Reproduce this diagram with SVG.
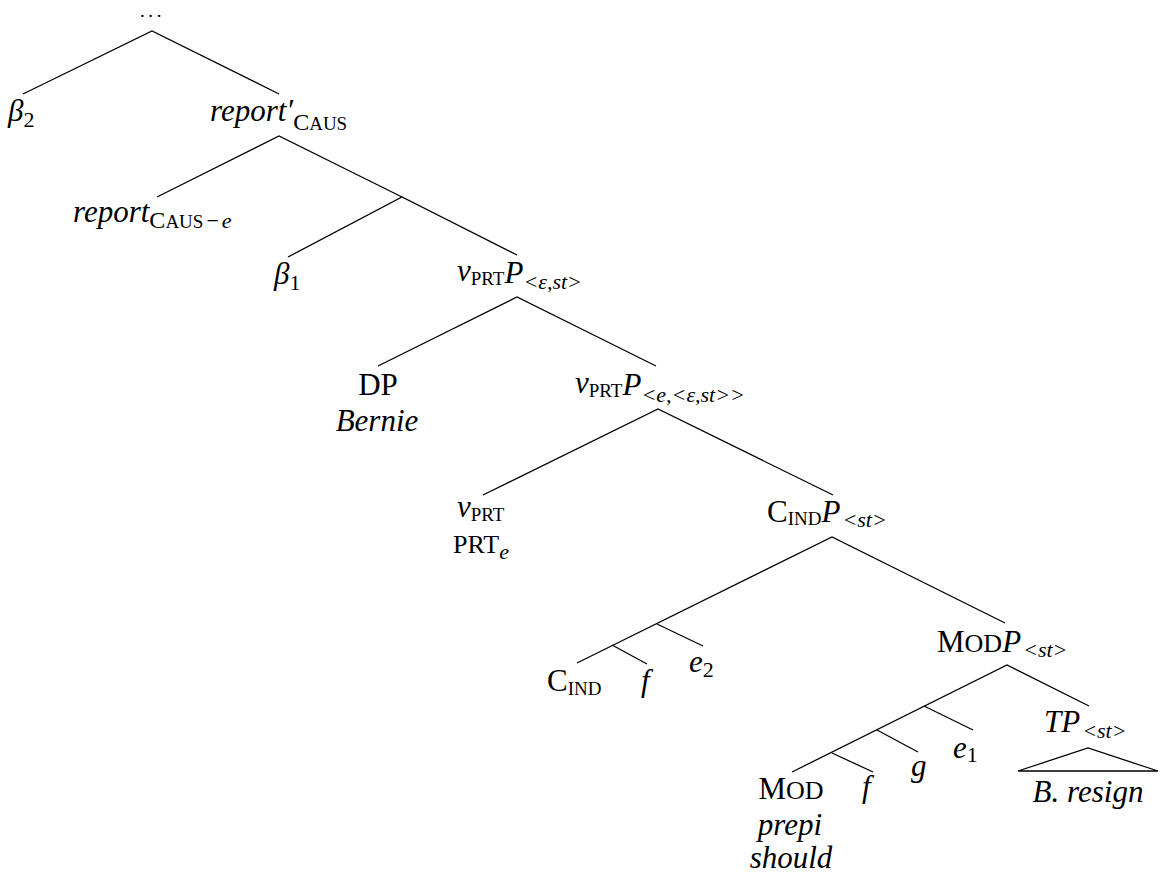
<svg xmlns="http://www.w3.org/2000/svg" width="1160" height="881" viewBox="0 0 1160 881">
  <style>
    text { font-family: "Liberation Serif", "Times New Roman", serif; font-size: 31px; fill: #000; }
    .i { font-style: italic; }
    .n { font-style: normal; }
    .sub { font-size: 22px; }
    .sc { font-size: 19px; font-style: normal; }
    .scm { font-size: 26px; font-style: normal; }
    .cap { font-size: 24px; font-style: normal; }
    .edge { fill: none; stroke: #000; stroke-width: 1.3; stroke-linejoin: miter; }
  </style>
  <rect width="1160" height="881" fill="#fff"/>

  <!-- branches -->
  <g id="connectors" class="edge">
    <path d="M23,94 L152,31 L279,94"/>
    <path d="M157,197 L279,136 L402,197"/>
    <path d="M288,257 L402,197 L517,255"/>
    <path d="M378,366 L517,297 L656,366"/>
    <path d="M483,495 L658,409 L833,495"/>
    <path d="M577,663 L832,537 L1005,623"/>
    <path d="M657,624 L703,646"/>
    <path d="M612,645 L647,664"/>
    <path d="M792,772 L1007,665 L1089,706"/>
    <path d="M924,706 L973,730"/>
    <path d="M877,730 L918,752"/>
    <path d="M832,753 L873,772"/>
    <path d="M1018,771 L1088,748 L1158,771 Z"/>
  </g>

  <g id="root">
    <text x="140" y="17" style="font-size:19px" letter-spacing="3.6">...</text>
  </g>

  <g id="beta2">
    <text x="8" y="121"><tspan class="i">β</tspan><tspan class="sub" y="127">2</tspan></text>
  </g>

  <g id="report-prime-caus">
    <text x="210" y="121"><tspan class="i">report′</tspan><tspan class="cap" y="130">C</tspan><tspan class="sc" y="130">AUS</tspan></text>
  </g>

  <g id="report-caus-e">
    <text x="73" y="222"><tspan class="i">report</tspan><tspan class="cap" y="228">C</tspan><tspan class="sc" y="228">AUS</tspan><tspan class="sub" dx="3" y="228">−</tspan><tspan class="sub i" dx="3" y="228">e</tspan></text>
  </g>

  <g id="beta1">
    <text x="274" y="284"><tspan class="i">β</tspan><tspan class="sub" y="290">1</tspan></text>
  </g>

  <g id="vprtp-eps-st">
    <text x="457" y="281"><tspan class="i">v</tspan><tspan class="sc" y="285">PRT</tspan><tspan class="i" y="283">P</tspan><tspan class="sub i" y="289">&lt;ε,st&gt;</tspan></text>
  </g>

  <g id="dp-bernie">
    <text x="378" y="395" text-anchor="middle">DP</text>
    <text x="377" y="431" text-anchor="middle" class="i">Bernie</text>
  </g>

  <g id="vprtp-e-eps-st">
    <text x="575" y="393"><tspan class="i">v</tspan><tspan class="sc" y="397">PRT</tspan><tspan class="i" y="395">P</tspan><tspan class="sub i" y="402">&lt;e,&lt;ε,st&gt;&gt;</tspan></text>
  </g>

  <g id="vprt-prt-e">
    <text x="457" y="517"><tspan class="i">v</tspan><tspan class="sc" y="521">PRT</tspan></text>
    <text x="453" y="553"><tspan class="scm">PRT</tspan><tspan class="sub i" y="559">e</tspan></text>
  </g>

  <g id="cindp-st">
    <text x="767" y="522">C<tspan class="sc" y="525">IND</tspan><tspan class="i" y="522">P</tspan><tspan class="sub i" dx="2" y="527">&lt;st&gt;</tspan></text>
  </g>

  <g id="cind">
    <text x="547" y="691">C<tspan class="sc" y="695">IND</tspan></text>
  </g>

  <g id="f-cind">
    <text x="641" y="691" class="i">f</text>
  </g>

  <g id="e2">
    <text x="689" y="672"><tspan class="i">e</tspan><tspan class="sub" y="677">2</tspan></text>
  </g>

  <g id="modp-st">
    <text x="937" y="652">M<tspan class="scm">OD</tspan><tspan class="i">P</tspan><tspan class="sub i" dx="2" y="657">&lt;st&gt;</tspan></text>
  </g>

  <g id="tp-st">
    <text x="1044" y="732"><tspan class="i">TP</tspan><tspan class="sub i" dx="2" y="738">&lt;st&gt;</tspan></text>
    <text x="1088" y="802" text-anchor="middle" class="i">B. resign</text>
  </g>

  <g id="e1">
    <text x="953" y="758"><tspan class="i">e</tspan><tspan class="sub" y="762">1</tspan></text>
  </g>

  <g id="g">
    <text x="911" y="776" class="i">g</text>
  </g>

  <g id="f-mod">
    <text x="862" y="797" class="i">f</text>
  </g>

  <g id="mod-prepi-should">
    <text x="791" y="799" text-anchor="middle">M<tspan class="scm">OD</tspan></text>
    <text x="790" y="835" text-anchor="middle" class="i">prepi</text>
    <text x="791" y="868" text-anchor="middle" class="i">should</text>
  </g>
</svg>
